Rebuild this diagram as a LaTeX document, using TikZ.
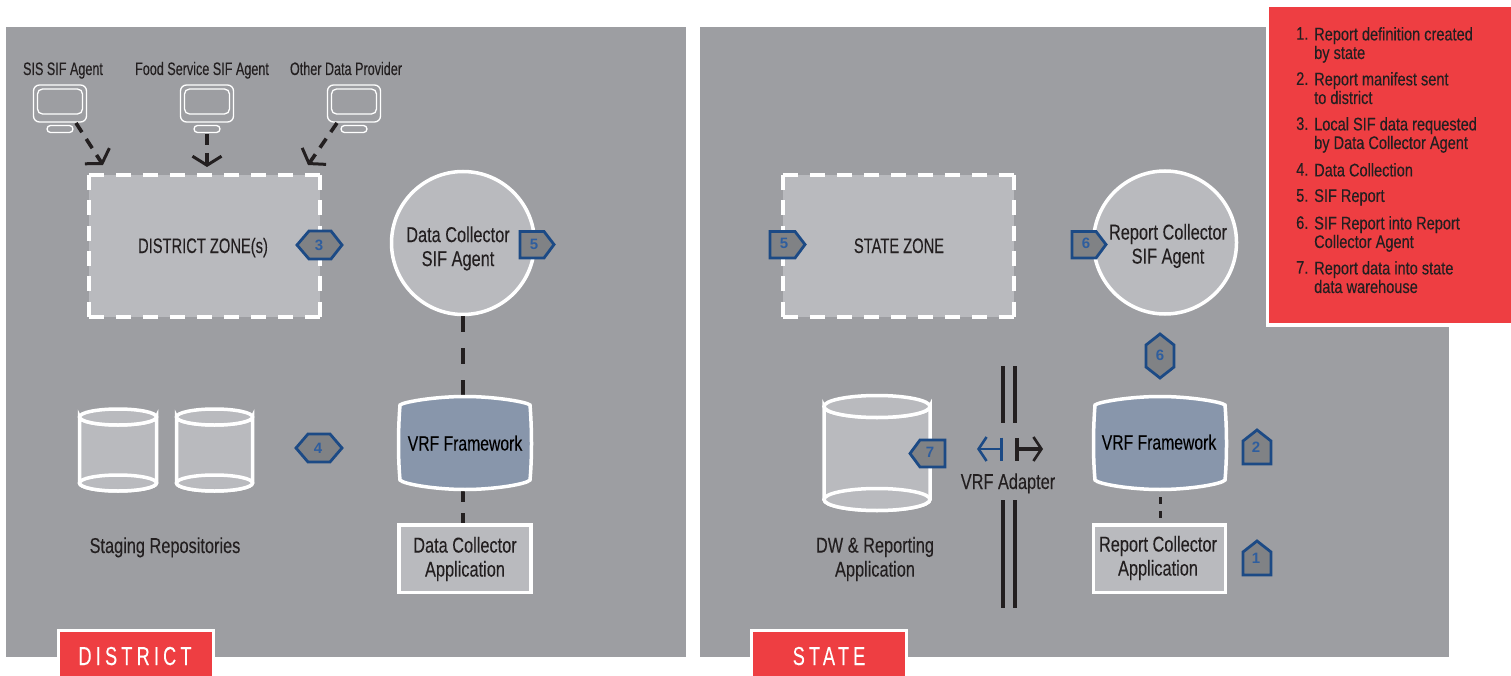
\documentclass[tikz,border=0pt]{standalone}
\usepackage{fontspec}
\usetikzlibrary{arrows.meta,shapes.geometric}
\setmainfont{Liberation Sans}[FakeStretch=0.76,FakeBold=0.15]
\newfontfamily\zonefont{Liberation Sans}[FakeStretch=0.70,FakeBold=0.15]
\newfontfamily\smallfont{Liberation Sans}[FakeStretch=0.70,FakeBold=0.15]
\newfontfamily\legfont{Liberation Sans}[FakeStretch=0.80,FakeBold=0.25]
\newfontfamily\tabfont{Liberation Sans}[FakeStretch=0.70,LetterSpace=16,FakeBold=0.1]
\newfontfamily\numfont{Liberation Sans}
\definecolor{panel}{HTML}{9D9EA2}
\definecolor{lightfill}{HTML}{B9BABE}
\definecolor{vrffill}{HTML}{8896AB}
\definecolor{badgefill}{HTML}{808285}
\definecolor{badgeline}{HTML}{1C4A85}
\definecolor{badgenum}{HTML}{2F5E9E}
\definecolor{inkdark}{HTML}{231F20}
\definecolor{redbox}{HTML}{EE3E42}
\tikzset{
  x=1pt,y=-1pt,
  panelbox/.style={fill=panel,draw=none},
  lbl/.style={font=\fontsize{21.5}{24}\selectfont,text=inkdark,align=center,inner sep=0pt},
  vrflbl/.style={font=\fontsize{20.7}{24}\selectfont,text=black,align=center,inner sep=0pt},
  zonelbl/.style={font=\zonefont\fontsize{21}{24}\selectfont,text=inkdark,align=center,inner sep=0pt},
  smalllbl/.style={font=\smallfont\fontsize{18}{20}\selectfont,text=inkdark,align=center,inner sep=0pt},
  leg/.style={font=\legfont\fontsize{18.2}{18.6}\selectfont,text=inkdark,align=left,inner sep=0pt,anchor=north west},
  zonebox/.style={fill=lightfill,draw=none,inner sep=0pt,minimum width=231pt,minimum height=142pt},
  zoneh/.style={draw=white,line width=3.5pt,dash pattern=on 15pt off 12pt},
  zonev/.style={draw=white,line width=3.5pt,dash pattern=on 15pt off 10.4pt},
  agent/.style={circle,fill=lightfill,draw=white,line width=3.5pt,minimum size=143pt,inner sep=0pt},
  appbox/.style={rectangle,fill=lightfill,draw=white,line width=3.5pt,minimum width=132pt,minimum height=67.5pt,inner sep=0pt},
  monout/.style={rectangle,rounded corners=6pt,draw=white,line width=1.3pt,minimum width=53pt,minimum height=37pt,inner sep=0pt},
  monin/.style={rectangle,rounded corners=5pt,draw=white,line width=1.3pt,minimum width=45pt,minimum height=25pt,inner sep=0pt},
  monbase/.style={rectangle,rounded corners=3.5pt,draw=white,line width=1.3pt,minimum width=26pt,minimum height=7pt,inner sep=0pt},
  flow/.style={draw=inkdark,line width=3.6pt,dash pattern=on 11pt off 8pt,
     -{Straight Barb[length=9pt,width=29pt,line width=3pt]}},
  link/.style={draw=inkdark,line width=4pt,dash pattern=on 16pt off 16pt},
  shortlink/.style={draw=inkdark,line width=3pt,dash pattern=on 7pt off 7pt},
  tube/.style={draw=white,line width=3.5pt,fill=lightfill},
  vrfshape/.style={draw=white,line width=3.5pt,fill=vrffill},
  badge/.style={draw=badgeline,line width=2.8pt,fill=badgefill,line join=miter},
  badgetxt/.style={font=\numfont\bfseries\fontsize{15}{15}\selectfont,text=badgenum,inner sep=0pt},
  rail/.style={draw=inkdark,line width=4pt},
  tabbox/.style={rectangle,fill=redbox,draw=white,line width=3pt,inner sep=0pt},
  tabtxt/.style={font=\tabfont\fontsize{26}{26}\selectfont,text=white,inner sep=0pt},
}
\newcommand{\tube}[5]{% x-left, x-right, top cy, bottom cy, ry
  \path[tube] (#1,#3) -- (#1,#4) arc[start angle=180,end angle=360,x radius={(#2-#1)/2*1pt},y radius=#5pt]
     -- (#2,#3) arc[start angle=0,end angle=-180,x radius={(#2-#1)/2*1pt},y radius=#5pt] -- cycle;
  \path[tube] ({(#1+#2)/2},#3) ellipse[x radius={(#2-#1)/2*1pt},y radius=#5pt];
  \path[tube] ({(#1+#2)/2},#4) ellipse[x radius={(#2-#1)/2*1pt},y radius=#5pt];
}
\newcommand{\vrf}[1]{% centre x
  \begin{scope}[shift={(#1,0)}]
  \path[vrfshape] (-65,405) .. controls (-62,402) and (-30,396.5) .. (0,396.5)
     .. controls (30,396.5) and (62,402) .. (65,405)
     .. controls (67,430) and (67,458) .. (65,480)
     .. controls (62,484) and (30,489.5) .. (0,489.5)
     .. controls (-30,489.5) and (-62,484) .. (-65,480)
     .. controls (-67,458) and (-67,430) .. (-65,405) -- cycle;
  \end{scope}
}
\begin{document}
\begin{tikzpicture}
\useasboundingbox (0,0) rectangle (1511,676);
\fill[white] (0,0) rectangle (1511,676);

% panels
\path[panelbox] (6,27) rectangle (686,657);
\path[panelbox] (700,27) rectangle (1449,657);

% district monitors
\foreach \n/\cx/\lab/\lx in {1/60/SIS SIF Agent/63, 2/207/Food Service SIF Agent/202, 3/354/Other Data Provider/346}{
  \node[monout] (mon\n) at (\cx,103.5) {};
  \node[monin] (scr\n) at (\cx,101.5) {};
  \node[monbase] (base\n) at (\cx,129) {};
  \node[smalllbl,anchor=base] (lab\n) at (\lx,75) {\lab};
}

% zones
\node[zonebox] (dz) at (204.5,246) {};
\draw[zoneh] (dz.north west) -- (dz.north east);
\draw[zoneh] (dz.south west) -- (dz.south east);
\draw[zonev] (dz.north west) -- (dz.south west);
\draw[zonev] (dz.north east) -- (dz.south east);
\node[zonelbl,anchor=base] (dzt) at (203,253) {DISTRICT ZONE(s)};

\node[zonebox] (sz) at (898.5,246) {};
\draw[zoneh] (sz.north west) -- (sz.north east);
\draw[zoneh] (sz.south west) -- (sz.south east);
\draw[zonev] (sz.north west) -- (sz.south west);
\draw[zonev] (sz.north east) -- (sz.south east);
\node[zonelbl,anchor=base] (szt) at (899,253) {STATE ZONE};

% flow arrows
\coordinate (a1s) at (76,123); \coordinate (a1e) at (103,165);
\coordinate (a2s) at (207,134); \coordinate (a2e) at (207,167);
\coordinate (a3s) at (337,123); \coordinate (a3e) at (308,165);
\draw[flow] (a1s) -- (a1e);
\draw[flow] (a2s) -- (a2e);
\draw[flow] (a3s) -- (a3e);

% agents
\node[agent] (dca) at (463,243) {};
\node[lbl] (dcat) at (458,248.5) {Data Collector\\SIF Agent};
\node[agent] (rca) at (1165,242.5) {};
\node[lbl] (rcat) at (1168,246) {Report Collector\\SIF Agent};

% VRF and links
\coordinate (vrfdtop) at (463,396);
\coordinate (vrfdbot) at (463,490);
\coordinate (vrfsbot) at (1160,497);
\draw[link] (dca.south) -- (vrfdtop);
\node[appbox] (dapp) at (465,558.5) {};
\node[appbox] (sapp) at (1159.5,558.5) {};
\draw[link,dash pattern=on 12pt off 11pt] (vrfdbot) -- (vrfdbot |- dapp.north);
\coordinate (sappl) at (1160,518);
\draw[shortlink] (vrfsbot) -- (sappl);
\vrf{465}
\vrf{1160}
\node[vrflbl,anchor=base] (vrfdt) at (465,450.5) {VRF Framework};
\node[vrflbl,anchor=base] (vrfst) at (1159,449.5) {VRF Framework};
\node[lbl] (dappt) at (465,559) {Data Collector\\Application};
\node[lbl] (sappt) at (1158,558) {Report Collector\\Application};

% cylinders
\tube{79.5}{156.5}{417}{483}{8}
\tube{176.5}{252.5}{417}{483}{8}
\tube{824}{930}{406.5}{499.5}{11}
\node[lbl,anchor=base] (stag) at (165,553) {Staging Repositories};
\node[lbl] (dwt) at (875,559) {DW \& Reporting\\Application};

% VRF adapter
\coordinate (r1a) at (1003,366); \coordinate (r1b) at (1003,423);
\coordinate (r1c) at (1003,500); \coordinate (r1d) at (1003,608);
\coordinate (r2a) at (1015,366); \coordinate (r2b) at (1015,423);
\coordinate (r2c) at (1015,500); \coordinate (r2d) at (1015,608);
\draw[rail] (r1a) -- (r1b); \draw[rail] (r1c) -- (r1d);
\draw[rail] (r2a) -- (r2b); \draw[rail] (r2c) -- (r2d);
\coordinate (blue0) at (1003,449); \coordinate (blue1) at (977,449);
\coordinate (blk0) at (1015,449); \coordinate (blk1) at (1043,449);
\draw[draw=badgeline,line width=2.6pt,{Bar[width=23pt,line width=3.5pt]}-{Straight Barb[length=8pt,width=24pt,line width=2.6pt]}] (blue0) -- (blue1);
\draw[draw=inkdark,line width=3.6pt,{Bar[width=23pt,line width=3.5pt]}-{Straight Barb[length=8pt,width=24pt,line width=2.6pt]}] (blk0) -- (blk1);
\node[lbl,anchor=base] (vad) at (1008,489) {VRF Adapter};

% badges
\path[badge] (297,245) -- (309,231) -- (331,231) -- (342,245) -- (331,259) -- (309,259) -- cycle;
\node[badgetxt] (b3) at (319,245) {3};
\path[badge] (296,448) -- (308,434) -- (330,434) -- (342,448) -- (330,462) -- (308,462) -- cycle;
\node[badgetxt] (b4) at (318,448) {4};
\path[badge] (520,231.5) -- (544,231.5) -- (554,244.5) -- (544,258) -- (520,258) -- cycle;
\node[badgetxt] (b5a) at (534,244) {5};
\path[badge] (770,231.5) -- (795,231.5) -- (805,244.5) -- (795,258) -- (770,258) -- cycle;
\node[badgetxt] (b5b) at (784,243.5) {5};
\path[badge] (1072,231.5) -- (1096,231.5) -- (1106,244.5) -- (1096,258) -- (1072,258) -- cycle;
\node[badgetxt] (b6a) at (1086,243) {6};
\path[badge] (1160,334) -- (1174,345) -- (1174,367) -- (1160,378) -- (1146,367) -- (1146,345) -- cycle;
\node[badgetxt] (b6b) at (1160,355.5) {6};
\path[badge] (1257,430) -- (1271,441) -- (1271,464) -- (1243,464) -- (1243,441) -- cycle;
\node[badgetxt] (b2) at (1256,447.5) {2};
\path[badge] (1257,541) -- (1271,552) -- (1271,575) -- (1243,575) -- (1243,552) -- cycle;
\node[badgetxt] (b1) at (1256,558.5) {1};
\path[badge] (945,440) -- (920,440) -- (910,453.5) -- (920,467) -- (945,467) -- cycle;
\node[badgetxt] (b7) at (930,452.5) {7};

% tabs
\node[tabbox,minimum width=155pt,minimum height=50pt,anchor=north west] (dtab) at (57,629) {};
\node[tabbox,minimum width=155pt,minimum height=50pt,anchor=north west] (stab) at (750,629) {};
\node[tabtxt,anchor=base] (dtabt) at (135,665) {DISTRICT};
\node[tabtxt,anchor=base] (stabt) at (829,665) {STATE};

% legend
\fill[white] (1265.5,3.5) rectangle (1511,326.5);
\fill[redbox] (1269,7) rectangle (1511,323);
\foreach \yy/\num/\txt in {
  27/1/{Report definition created\\by state},
  72/2/{Report manifest sent\\to district},
  117/3/{Local SIF data requested\\by Data Collector Agent},
  163/4/{Data Collection},
  189/5/{SIF Report},
  216/6/{SIF Report into Report\\Collector Agent},
  261/7/{Report data into state\\data warehouse}}{
  \node[leg] (ln\num) at (1296,\yy) {\num.};
  \node[leg] (lt\num) at (1314,\yy) {\txt};
}
\end{tikzpicture}
\end{document}
